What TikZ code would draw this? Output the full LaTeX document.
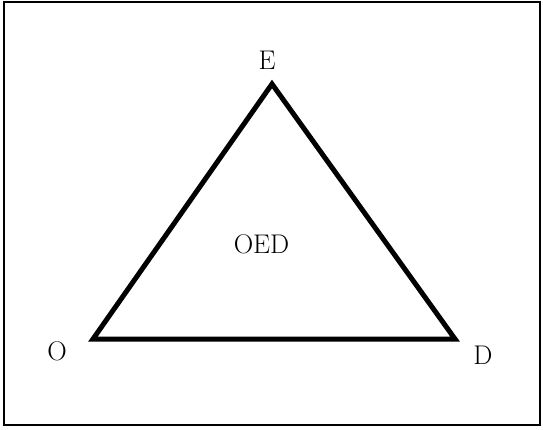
\documentclass[tikz,border=0pt]{standalone}
\begin{document}
\begin{tikzpicture}[x=1pt,y=-1pt,
  lbl/.style={font=\fontsize{27}{29}\selectfont, inner sep=0pt},
  tri/.style={line width=5pt, line join=miter}]
\useasboundingbox (0,0) rectangle (543,429);
\fill[white] (0,0) rectangle (543,429);
\draw[line width=1.2pt] (4,2) rectangle (540,425);
\coordinate (O) at (93,339);
\coordinate (D) at (455,339);
\coordinate (E) at (272,84);
\draw[tri] (O) -- (E) -- (D) -- cycle;
\node[lbl] (lE) at (267,60) {E};
\node[lbl] (lO) at (57,351) {O};
\node[lbl] (lD) at (483,355) {D};
\node[lbl] (lOED) at (261.5,244) {OED};
\end{tikzpicture}
\end{document}
